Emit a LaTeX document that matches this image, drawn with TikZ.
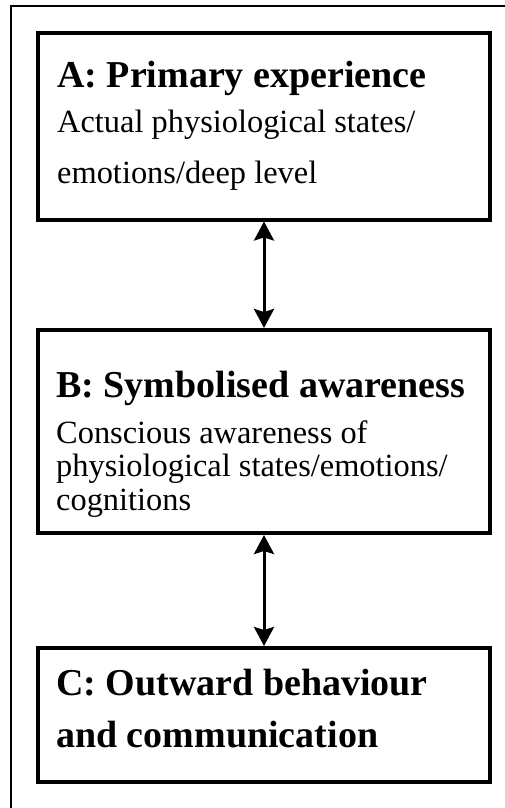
\documentclass[tikz,border=0pt]{standalone}
\usepackage{fontspec}
\setmainfont{Liberation Serif}
\usetikzlibrary{arrows.meta}
\begin{document}
\begin{tikzpicture}[x=1pt,y=1pt,
  stagebox/.style={draw, line width=4pt, inner sep=0pt, minimum width=452pt},
  headline/.style={anchor=base west, inner sep=0pt, font=\fontsize{38}{38}\selectfont\bfseries},
  bodyline/.style={anchor=base west, inner sep=0pt, font=\fontsize{32.4}{32.4}\selectfont},
  link/.style={line width=3pt, {Stealth[length=19pt,width=20pt,inset=3pt]}-{Stealth[length=19pt,width=20pt,inset=3pt]}}]
\useasboundingbox (0,0) rectangle (505,-808);
% page frame (top and left rules)
\draw[line width=1.3pt] (11,-808) -- (11,-6) -- (505,-6);
% the three stages
\node[stagebox, minimum height=186.5pt] (A) at (264,-126.25) {};
\node[stagebox, minimum height=203pt] (B) at (264,-431.5) {};
\node[stagebox, minimum height=133.5pt] (C) at (264,-714.75) {};
% stage A text
\node[headline] (At) at (57,-87) {A: Primary experience};
\node[bodyline] (A1) at (57,-132) {Actual physiological states/};
\node[bodyline] (A2) at (57,-183) {emotions/deep level};
% stage B text
\node[headline] (Bt) at (56,-397) {B: Symbolised awareness};
\node[bodyline] (B1) at (56,-443) {Conscious awareness of};
\node[bodyline] (B2) at (56,-476.5) {physiological states/emotions/};
\node[bodyline] (B3) at (56,-510) {cognitions};
% stage C text
\node[headline] (Ct) at (56,-695) {C: Outward behaviour};
\node[headline] (C2) at (56,-747) {and communication};
% two-way links
\draw[link] (A.south) -- (B.north);
\draw[link] (B.south) -- (C.north);
\end{tikzpicture}
\end{document}
